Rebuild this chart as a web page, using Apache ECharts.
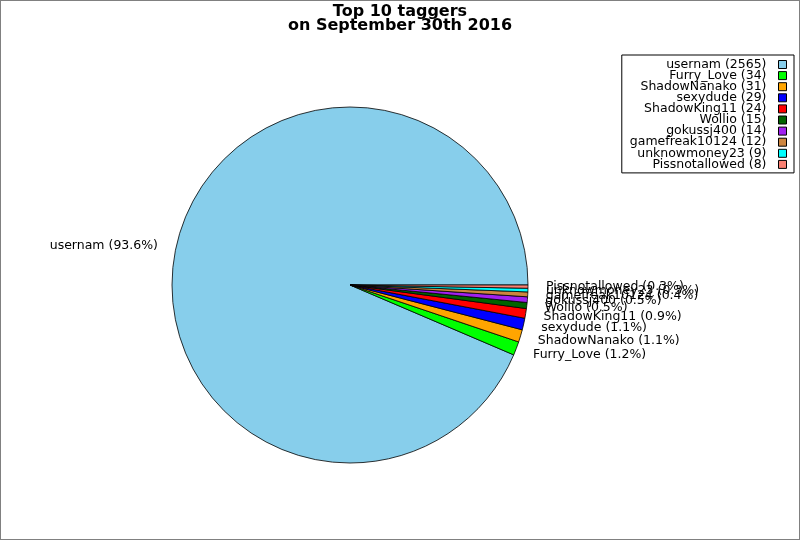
<!DOCTYPE html>
<html>
<head>
<meta charset="utf-8">
<script src="https://cdn.jsdelivr.net/npm/echarts@6/dist/echarts.min.js"></script>
<style>
html,body{margin:0;padding:0;background:#fff;}
#c{position:absolute;left:0;top:0;width:798px;height:538px;border:1px solid #808080;}
</style>
</head>
<body>
<div id="c"></div>
<script>
const names = ["usernam","Furry_Love","ShadowNanako","sexydude","ShadowKing11","Wollio","gokussj400","gamefreak10124","unknowmoney23","Pissnotallowed"];
const counts = [2565,34,31,29,24,15,14,12,9,8];
const colors = ["#87CEEB","#00FF00","#FFA500","#0000FF","#FF0000","#006400","#A020F0","#CD853F","#00FFFF","#FA8072"];
const titleText = "Top 10 taggers\non September 30th 2016";

const total = counts.reduce((a,b)=>a+b,0);
const font = "DejaVu Sans";
const chart = echarts.init(document.getElementById('c'));
chart.setOption({
  backgroundColor:'#fff',
  animation:false,
  color: colors,
  title:{
    text:titleText, left:'center', top:-1,
    textStyle:{fontFamily:font,fontWeight:'bold',fontSize:16,lineHeight:14,color:'#000'}
  },
  legend:{
    orient:'vertical', right:5, top:54, align:'right',
    itemWidth:8, itemHeight:8, itemGap:-1.9, icon:'rect',
    selectedMode:false,
    padding:[3,7,2,8],
    borderColor:'#000', borderWidth:1,
    itemStyle:{borderColor:'#000',borderWidth:1},
    textStyle:{fontFamily:font,fontSize:12.5,lineHeight:11.1,color:'#000',padding:[0,7,0,0]},
    formatter:function(n){return n+' ('+counts[names.indexOf(n)]+')';},
    data:names
  },
  series:[{
    type:'pie',
    center:[349,284], radius:178,
    startAngle:0, clockwise:false,
    avoidLabelOverlap:false,
    labelLayout:{hideOverlap:false},
    itemStyle:{borderColor:'#000',borderWidth:0.8},
    emphasis:{disabled:true},
    label:{
      show:true, position:'outside', distanceToLabelLine:0,
      fontFamily:font, fontSize:12.5, color:'#000',
      formatter:function(p){return p.name+' ('+(p.value/total*100).toFixed(1)+'%)';}
    },
    labelLine:{show:false,length:18,length2:0},
    data:names.map((n,i)=>({name:n,value:counts[i]}))
  }]
});
</script>
</body>
</html>
